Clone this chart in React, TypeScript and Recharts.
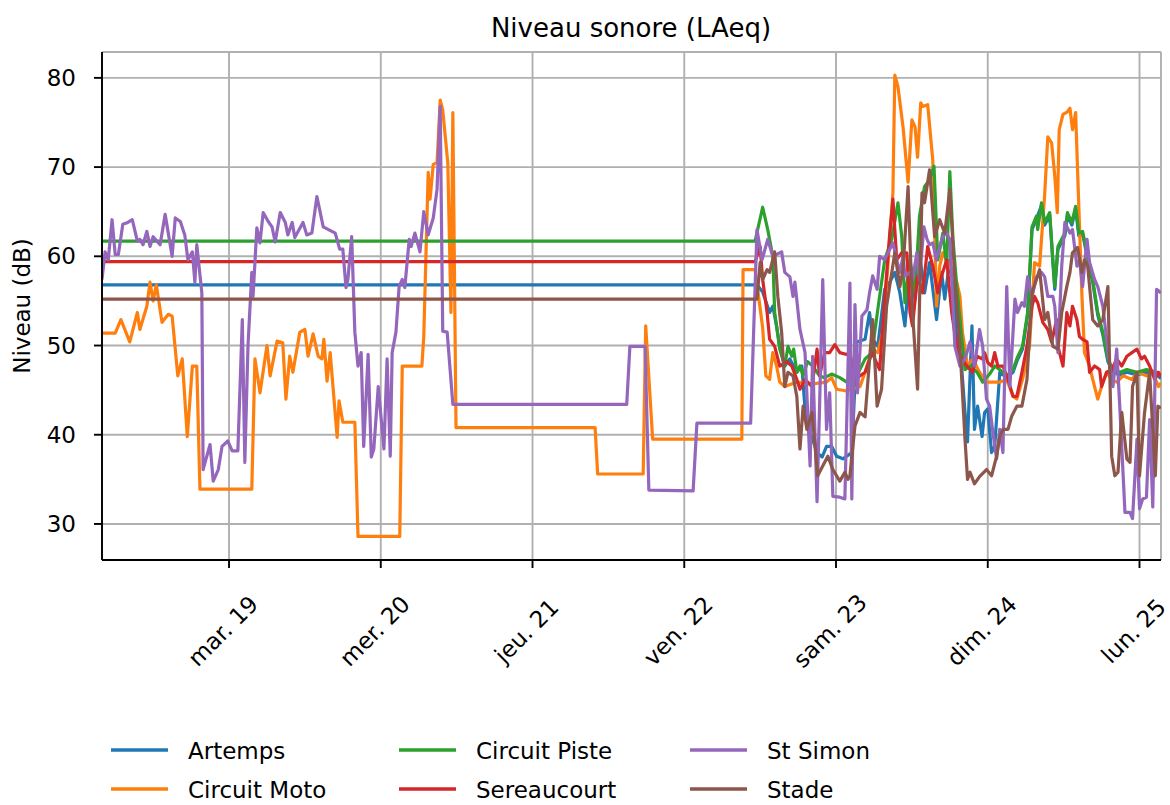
import React from 'react';
import { LineChart, Line, XAxis, YAxis, CartesianGrid } from 'recharts';

const FONT = '"DejaVu Sans", sans-serif';

// hours since Monday 18 March 00:00
const dayTicks = [24, 48, 72, 96, 120, 144, 168];
const dayLabels = ['mar. 19', 'mer. 20', 'jeu. 21', 'ven. 22', 'sam. 23', 'dim. 24', 'lun. 25'];
const levelTicks = [30, 40, 50, 60, 70, 80];
const seriesNames = ['Artemps', 'Circuit Moto', 'Circuit Piste', 'Sereaucourt', 'St Simon', 'Stade'];
const seriesColors = ['#1f77b4', '#ff7f0e', '#2ca02c', '#d62728', '#9467bd', '#8c564b'];

const artemps: [number, number][] = [
  [3.9, 56.8], [107.5, 56.8], [108.4, 56], [109.5, 53.7], [110.0, 54.4], [110.6, 52.2], [111.1, 49.9],
  [111.9, 47.7], [112.7, 48.5], [113.8, 47], [114.6, 47.7], [115.1, 42.9], [115.9, 40.3], [117.0, 38],
  [117.8, 37.5], [118.5, 38.7], [119.3, 38.7], [120.1, 37.6], [121.1, 37.3], [121.7, 37.6], [122.5, 38],
  [123.3, 50.4], [124.6, 50.7], [125.3, 53.7], [125.8, 50.7], [126.6, 49.9], [127.7, 56.3], [128.5, 57.1],
  [129.3, 58.2], [130.1, 55.9], [130.9, 52.2], [131.7, 58.9], [132.5, 55.2], [133.2, 60.4], [134.0, 55.9],
  [134.8, 59.3], [135.9, 52.9], [136.7, 58.2], [137.2, 55.2], [138.0, 59.6], [138.5, 56.6], [139.1, 50.7],
  [139.9, 47.3], [140.4, 42.5], [140.8, 39.2], [141.5, 52.2], [141.9, 40.6], [142.4, 43.2], [143.1, 39.8],
  [143.5, 42.5], [144.0, 42.9], [144.6, 38], [145.1, 38.7], [145.9, 47.0], [147.0, 46.4], [148.0, 47.0],
  [148.7, 48.4], [149.5, 49.6], [150.3, 53.4], [151.0, 63.0], [151.7, 64.2], [152.5, 65.7], [153.0, 63.5],
  [153.8, 64.6], [154.3, 59.3], [154.6, 56.3], [155.1, 60.8], [156.2, 62.3], [156.6, 64.6], [157.3, 63.5],
  [157.9, 65.3], [158.4, 62.3], [159.0, 62.5], [159.7, 60.1], [160.6, 57.1], [161.4, 53.4], [162.2, 51.2],
  [163.0, 48.2], [163.8, 47.0], [164.9, 46.7], [166.0, 47.0], [167.6, 46.7], [169.1, 47.0], [170.7, 46.7],
  [171.4, 46.3],
];

const circuitMoto: [number, number][] = [
  [3.9, 51.4], [6.0, 51.4], [6.9, 52.9], [8.3, 50.4], [9.5, 53.7], [9.9, 51.8], [11.0, 54.4], [11.5, 57.1],
  [12.0, 55.0], [12.5, 56.8], [13.4, 52.6], [14.4, 53.5], [15.0, 53.3], [15.9, 46.6], [16.6, 48.5],
  [17.4, 39.8], [18.2, 47.7], [18.9, 47.7], [19.4, 33.9], [27.6, 33.9], [28.1, 48.5], [28.9, 44.7],
  [30.0, 50.0], [30.5, 46.6], [31.6, 50.5], [32.5, 50.3], [33.0, 44.0], [33.6, 48.8], [34.1, 47.0],
  [35.2, 51.5], [36.0, 51.8], [36.5, 48.8], [37.3, 51.3], [38.1, 48.8], [38.7, 48.5], [39.0, 50.7],
  [39.5, 46.0], [40.0, 49.2], [41.1, 39.7], [41.4, 43.8], [42.0, 41.4], [43.9, 41.4], [44.4, 28.6],
  [51.0, 28.6], [51.4, 47.7], [54.5, 47.7], [54.8, 51.0], [55.5, 69.4], [55.8, 66.4], [56.3, 70.3],
  [56.9, 70.5], [57.4, 77.5], [57.8, 76.4], [58.6, 70.5], [59.1, 53.7], [59.4, 76.1], [59.9, 40.8],
  [81.9, 40.8], [82.3, 35.6], [89.5, 35.6], [89.9, 52.2], [91.0, 39.5], [105.1, 39.5], [105.3, 58.5],
  [107.2, 58.5], [108.4, 52], [108.9, 46.6], [109.5, 46.2], [110.0, 49.2], [110.6, 47.7], [111.1, 45.9],
  [111.9, 45.4], [113.8, 45.9], [116.3, 45.7], [118.5, 45.9], [119.3, 46.4], [120.1, 45.1], [121.7, 44.9],
  [123.8, 45.4], [124.6, 47], [125.7, 49.6], [126.6, 49.2], [127.4, 51.5], [128.2, 58.9], [129.0, 67.1],
  [129.3, 80.3], [129.8, 79], [130.6, 74.5], [131.4, 68.3], [132.0, 75.3], [132.5, 74.5], [132.9, 71.1],
  [133.4, 77.2], [133.7, 76.8], [134.5, 77], [135.3, 70.8], [135.9, 54.4], [136.4, 58.9], [136.9, 60.4],
  [137.5, 59.6], [138.0, 58.9], [139.1, 57.1], [139.6, 55.5], [140.0, 51.5], [140.8, 47.7], [141.6, 48.5],
  [142.7, 47], [143.8, 45.9], [145.9, 45.9], [147.0, 46.2], [148.0, 44.3], [148.6, 44], [149.5, 46.2],
  [150.6, 49.9], [151.4, 59.3], [152.2, 58.9], [153.0, 66.9], [153.5, 73.4], [154.1, 72.7], [154.6, 69],
  [155.0, 64.9], [155.3, 74.2], [155.9, 75.9], [156.6, 76.2], [157.0, 76.6], [157.4, 74.2], [157.9, 76.1],
  [158.4, 65.6], [158.9, 55.5], [159.3, 49.2], [160.1, 47.7], [160.6, 46.2], [161.4, 44], [162.0, 45.4],
  [162.8, 47], [163.6, 46.2], [164.4, 45.9], [165.4, 46.6], [166.8, 46.2], [167.7, 47], [169.1, 46.6],
  [170.1, 47], [171.0, 45.4], [171.4, 45.8],
];

const circuitPiste: [number, number][] = [
  [3.9, 61.7], [107.2, 61.7], [108.4, 65.5], [109.2, 63], [110.0, 60], [110.3, 53.7], [111.1, 49.6],
  [111.9, 47.7], [112.4, 49.9], [113.0, 48.8], [113.3, 49.6], [113.8, 47], [114.3, 47.7], [114.8, 46.6],
  [115.5, 48.2], [116.3, 47.7], [117.4, 46.6], [118.2, 46.4], [119.3, 46.8], [120.6, 46.4], [121.7, 45.9],
  [123.0, 46.2], [124.6, 48.5], [125.7, 49.2], [126.6, 54], [127.7, 59.6], [128.8, 61.9], [129.8, 66],
  [130.4, 62.2], [130.9, 54.8], [131.7, 59.6], [132.5, 55.9], [133.2, 64.5], [134.0, 67.8], [134.8, 68.6],
  [135.5, 70.1], [136.1, 59.6], [136.9, 62.6], [137.5, 58.9], [138.0, 69.5], [138.5, 61.9], [139.1, 56.6],
  [139.9, 50.7], [140.4, 47.3], [141.2, 47.7], [142.3, 47], [143.2, 45.9], [144.3, 46.8], [145.1, 47.7],
  [145.9, 47.3], [147.0, 46.6], [148.0, 47.3], [148.7, 48.7], [149.5, 49.9], [150.3, 53.7], [151.0, 63.3],
  [151.7, 64.5], [151.9, 63], [152.5, 66], [153.0, 63.8], [153.8, 64.9], [154.3, 59.6], [154.6, 56.6],
  [155.1, 61.1], [156.2, 62.6], [156.6, 64.9], [157.3, 63.8], [157.9, 65.6], [158.4, 62.6], [159.0, 62.8],
  [159.7, 60.4], [160.6, 57.4], [161.4, 53.7], [162.2, 51.5], [163.0, 48.5], [163.8, 47.3], [164.9, 47],
  [166.0, 47.3], [167.6, 47], [169.1, 47.3], [170.7, 47], [171.4, 46.6],
];

const sereaucourt: [number, number][] = [
  [3.9, 59.4], [107.2, 59.4], [108.0, 61.1], [108.4, 57.4], [109.1, 53.7], [109.5, 50.7], [110.3, 49.9],
  [111.1, 47.7], [112.2, 48.2], [113.0, 47.7], [113.8, 46.2], [114.3, 45.1], [115.1, 46.2], [116.2, 45.4],
  [117.0, 49.6], [117.4, 46.6], [118.2, 49.2], [119.0, 49.2], [119.8, 50.1], [120.6, 49.2], [121.7, 49],
  [122.2, 49.2], [123.0, 46.2], [124.6, 47], [125.7, 49.2], [126.9, 47.3], [127.7, 55.2], [128.5, 62.6],
  [129.0, 66.4], [129.6, 59.6], [130.4, 60.4], [131.2, 60.4], [131.7, 53.7], [132.1, 52.2], [132.9, 57.8],
  [133.7, 55.9], [134.5, 61.1], [135.3, 58.9], [136.1, 55.9], [136.7, 57.8], [137.5, 59.6], [138.3, 53.7],
  [139.1, 49.9], [139.9, 48.5], [140.7, 47.7], [141.6, 47], [142.3, 48.8], [143.1, 48.5], [143.5, 49.2],
  [144.0, 48.1], [144.6, 47.7], [145.1, 49.2], [145.6, 47.7], [146.4, 47.7], [147.2, 46.2], [148.0, 44.3],
  [148.6, 44.3], [149.4, 47], [150.2, 49.9], [151.0, 54.4], [151.4, 55.5], [151.9, 54.8], [152.7, 52.6],
  [153.5, 51.8], [154.1, 50.4], [154.9, 52.9], [155.1, 49.9], [155.9, 47.7], [156.5, 53.7], [157.0, 52.2],
  [157.4, 54.4], [158.1, 52.9], [158.5, 51], [159.0, 50.7], [159.7, 50.4], [160.1, 47], [160.9, 47.7],
  [161.7, 47.3], [162.0, 45.4], [162.8, 47], [163.6, 47.3], [164.4, 48.5], [165.2, 47.7], [166.0, 48.8],
  [166.8, 49.2], [167.6, 49.6], [168.3, 48.5], [168.8, 48.8], [169.6, 47.7], [170.4, 46.2], [171.0, 47],
  [171.4, 46.5],
];

const stSimon: [number, number][] = [
  [3.9, 57.4], [4.4, 60.5], [4.9, 59.6], [5.5, 64.1], [6.0, 60.2], [6.5, 60.2], [7.2, 63.6], [8.0, 63.8],
  [8.7, 64.1], [9.5, 61.7], [9.9, 61.9], [10.4, 61.3], [11.0, 62.8], [11.5, 61.1], [12.0, 62.2],
  [13.1, 61.3], [13.9, 64.7], [15.0, 60.0], [15.5, 64.3], [16.3, 63.9], [17.0, 62.4], [17.5, 59.6],
  [18.2, 60.5], [18.6, 57.1], [18.9, 61.3], [19.7, 55.9], [19.9, 36.1], [21.0, 38.9], [21.5, 34.8],
  [22.3, 36.1], [22.9, 38.7], [23.8, 39.3], [24.5, 38.2], [25.4, 38.2], [26.1, 52.9], [26.5, 36.9],
  [27.0, 50.0], [27.6, 58.2], [27.8, 55.5], [28.4, 63.2], [28.9, 61.5], [29.4, 64.9], [30.2, 63.9],
  [30.8, 63.3], [31.3, 61.6], [32.1, 64.9], [32.9, 63.8], [33.3, 62.4], [34.0, 63.8], [34.4, 62.1],
  [35.7, 63.8], [36.3, 62.4], [37.1, 62.6], [37.9, 66.7], [38.9, 63.3], [40.8, 62.6], [41.5, 60.8],
  [42.0, 60.8], [42.5, 56.5], [42.8, 57.4], [43.4, 62.2], [43.9, 51.5], [44.4, 47.7], [44.9, 49.2],
  [45.3, 38.7], [46.0, 49.0], [46.5, 37.5], [46.9, 38.4], [47.6, 45.4], [48.5, 38.4], [49.0, 48.5],
  [49.5, 37.6], [49.8, 49.2], [50.4, 51.5], [50.9, 56.6], [51.4, 57.4], [51.8, 56.5], [52.5, 61.9],
  [52.8, 61.1], [53.4, 62.6], [54.2, 60.5], [54.8, 65.0], [55.5, 62.4], [56.3, 64.3], [56.9, 67.5],
  [57.4, 76.8], [57.8, 51.6], [58.5, 51.5], [59.4, 43.4], [86.9, 43.4], [87.4, 49.9], [89.8, 49.9],
  [90.4, 33.8], [97.4, 33.7], [98.0, 41.3], [106.5, 41.3], [107.5, 63], [108.3, 59.6], [109.2, 61.9],
  [110.0, 60], [111.4, 60.5], [111.9, 58.2], [112.7, 57.7], [113.2, 55.5], [113.5, 57.1], [114.3, 51.8],
  [115.1, 49.2], [115.9, 36.5], [116.3, 48.8], [117.0, 32.5], [117.4, 43.2], [117.9, 57.4], [118.5, 40.6],
  [119.0, 44.7], [119.5, 33.1], [120.6, 33], [121.4, 32.8], [121.9, 47.7], [122.2, 57], [122.5, 32.8],
  [123.0, 54.6], [123.4, 44.7], [124.1, 53.3], [124.9, 54], [125.3, 55.9], [125.8, 57.8], [126.5, 56.3],
  [126.9, 60], [127.7, 59.6], [128.5, 60.8], [129.0, 61.5], [129.6, 59.6], [130.1, 58.2], [130.6, 60],
  [130.9, 57.8], [131.7, 58.2], [132.1, 57.4], [132.8, 60.4], [133.2, 57.4], [133.9, 63.3], [134.4, 61.9],
  [134.8, 61.3], [135.3, 61.5], [135.9, 59.6], [136.4, 61.1], [136.9, 62.2], [137.5, 62.6], [138.0, 61.9],
  [138.8, 49.9], [139.6, 47.7], [140.4, 48.5], [141.2, 50.4], [141.9, 47.7], [142.7, 51.8], [143.2, 49.9],
  [143.8, 44], [144.3, 43.2], [144.8, 40.3], [145.4, 37.3], [145.9, 40.6], [146.4, 38], [147.0, 56.6],
  [147.5, 45.4], [148.3, 55.2], [148.7, 53.7], [149.4, 54.8], [149.8, 54.4], [150.3, 57.7], [151.0, 55.5],
  [151.7, 57.7], [152.5, 58.2], [153.0, 57.7], [153.5, 55.5], [154.3, 55.5], [154.6, 54.4], [155.1, 49.2],
  [155.7, 58.9], [156.2, 63.8], [157.0, 62.6], [157.4, 63], [158.1, 58.9], [158.5, 59.6], [159.0, 56.6],
  [159.7, 61.9], [160.1, 59.3], [160.9, 57.4], [161.4, 56.6], [162.2, 54.4], [162.8, 50.7], [163.3, 47.7],
  [163.8, 45.4], [164.4, 49.6], [164.9, 42.9], [165.7, 31.3], [166.5, 31.3], [166.9, 30.6], [167.6, 39.5],
  [168.0, 31.7], [168.5, 32.8], [169.1, 33], [169.6, 41.7], [170.1, 31.9], [170.7, 56.3], [171.4, 55.9],
];

const stade: [number, number][] = [
  [3.9, 55.2], [107.5, 55.2], [108.0, 59.3], [108.4, 57.4], [109.1, 58.5], [109.5, 58.2], [110.3, 60.5],
  [110.8, 55.5], [111.4, 51.5], [111.9, 45.4], [112.4, 47], [113.2, 46.6], [113.8, 44.3], [114.3, 38.4],
  [114.8, 43.2], [115.4, 40.6], [116.2, 42.5], [116.6, 39.5], [117.1, 35.4], [117.9, 36.5], [118.7, 37.6],
  [119.5, 36.1], [120.6, 34.8], [121.4, 35.8], [121.9, 35], [122.2, 35.4], [123.0, 41], [123.8, 42.5],
  [124.6, 42], [125.8, 52.9], [126.5, 43.2], [127.2, 45.1], [128.0, 54.4], [129.3, 60.4], [130.1, 56.6],
  [130.6, 58.5], [131.4, 67.8], [132.1, 53.7], [132.9, 45.1], [133.6, 67.1], [134.0, 66], [134.8, 69.7],
  [135.6, 62.2], [136.4, 64.1], [137.2, 62.6], [138.0, 67.5], [138.8, 57.4], [139.6, 49.9], [140.4, 39.5],
  [140.8, 35], [141.2, 35.8], [141.9, 34.5], [142.7, 35.3], [143.8, 36.1], [144.6, 35.4], [145.4, 37.6],
  [145.9, 39.8], [146.4, 40.6], [147.2, 40.6], [147.8, 42.1], [148.6, 43.2], [149.4, 43.2], [150.2, 46.2],
  [151.0, 55.9], [151.7, 57.4], [152.2, 58.5], [153.0, 52.9], [153.5, 53.7], [154.3, 49.9], [155.1, 49.6],
  [155.7, 53.7], [156.5, 56.6], [157.0, 58.2], [157.4, 60.4], [158.2, 61], [158.9, 58.2], [159.3, 59.6],
  [159.8, 58.9], [160.6, 52.9], [161.4, 52.2], [162.2, 52.9], [163.0, 56.6], [163.6, 37.6], [164.1, 35.4],
  [164.6, 35.8], [165.2, 42.5], [166.0, 37.3], [166.5, 36.9], [166.9, 45.4], [167.6, 47], [168.0, 35.4],
  [168.8, 42.5], [169.6, 47], [170.5, 35.4], [170.9, 43.2], [171.4, 43],
];

const seriesData = [artemps, circuitMoto, circuitPiste, sereaucourt, stSimon, stade];

const toRows = (arr: [number, number][]) => arr.map(([t, v]) => ({ t, v }));

const XTick = (props: any) => {
  const { x, payload } = props;
  const i = dayTicks.indexOf(payload.value);
  const label = i >= 0 ? dayLabels[i] : '';
  const cx = x - 6;
  const cy = 631;
  return (
    <text
      x={cx}
      y={cy}
      textAnchor="middle"
      dominantBaseline="central"
      transform={`rotate(-45, ${cx}, ${cy})`}
      fontSize={23}
      fontFamily={FONT}
      fill="#000"
    >
      {label}
    </text>
  );
};

const legendCols = [
  { lineX: 111, textX: 188 },
  { lineX: 399, textX: 476 },
  { lineX: 690, textX: 767 },
];
const legendRows = [750, 789];

export default function App() {
  const X_DOMAIN: [number, number] = [3.91, 171.4];
  const Y_DOMAIN: [number, number] = [25.96, 82.9];
  return (
    <div style={{ position: 'absolute', left: 0, top: 0, width: 1170, height: 805, background: '#fff', fontFamily: FONT }}>
      <LineChart width={1170} height={805} margin={{ top: 52, right: 9, bottom: 0, left: 0 }}>
        <CartesianGrid stroke="#b0b0b0" strokeWidth={1.9} horizontal vertical />
        <XAxis
          dataKey="t"
          type="number"
          domain={X_DOMAIN}
          ticks={dayTicks}
          interval={0}
          allowDataOverflow
          height={245}
          tickSize={8}
          tickLine={{ stroke: '#000', strokeWidth: 1.9 }}
          axisLine={{ stroke: '#000', strokeWidth: 1.9 }}
          tick={<XTick />}
        />
        <XAxis
          xAxisId="top"
          orientation="top"
          dataKey="t"
          type="number"
          domain={X_DOMAIN}
          height={0}
          tick={false}
          tickLine={false}
          axisLine={{ stroke: '#000', strokeWidth: 1.9 }}
        />
        <YAxis
          type="number"
          domain={Y_DOMAIN}
          ticks={levelTicks}
          interval={0}
          allowDataOverflow
          width={102}
          tickSize={8}
          tickMargin={18}
          tickLine={{ stroke: '#000', strokeWidth: 1.9 }}
          axisLine={{ stroke: '#000', strokeWidth: 1.9 }}
          tick={{ fontSize: 23, fill: '#000', fontFamily: FONT }}
        />
        <YAxis
          yAxisId="right"
          orientation="right"
          type="number"
          domain={Y_DOMAIN}
          width={0}
          tick={false}
          tickLine={false}
          axisLine={{ stroke: '#000', strokeWidth: 1.9 }}
        />
        {seriesData.map((d, i) => (
          <Line
            key={seriesNames[i]}
            name={seriesNames[i]}
            data={toRows(d)}
            dataKey="v"
            type="linear"
            stroke={seriesColors[i]}
            strokeWidth={3.2}
            strokeLinejoin="round"
            dot={false}
            activeDot={false}
            isAnimationActive={false}
          />
        ))}
      </LineChart>
      <svg width={1170} height={805} style={{ position: 'absolute', left: 0, top: 0, pointerEvents: 'none' }}>
        <text x={631} y={37} textAnchor="middle" fontSize={26} fontFamily={FONT} fill="#000">
          Niveau sonore (LAeq)
        </text>
        <text
          x={22}
          y={306}
          textAnchor="middle"
          dominantBaseline="central"
          transform="rotate(-90, 22, 306)"
          fontSize={23}
          fontFamily={FONT}
          fill="#000"
        >
          Niveau (dB)
        </text>
        {seriesNames.map((n, i) => {
          const col = legendCols[Math.floor(i / 2)];
          const y = legendRows[i % 2];
          return (
            <g key={n}>
              <line x1={col.lineX} x2={col.lineX + 57} y1={y} y2={y} stroke={seriesColors[i]} strokeWidth={3.5} />
              <text x={col.textX} y={y + 1} dominantBaseline="central" fontSize={23} fontFamily={FONT} fill="#000">
                {n}
              </text>
            </g>
          );
        })}
      </svg>
    </div>
  );
}
